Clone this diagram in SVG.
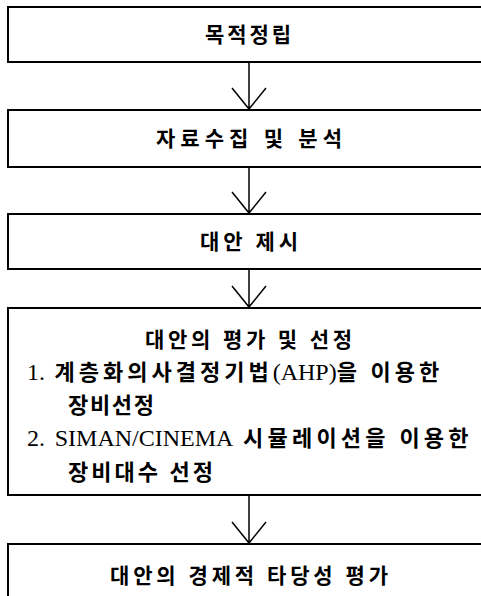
<svg xmlns="http://www.w3.org/2000/svg" width="481" height="596" viewBox="0 0 481 596">
<style>
.box{fill:#fff;stroke:#000;stroke-width:2}
.ln{fill:none;stroke:#000;stroke-width:1.5}
.t{font-family:"Liberation Serif","Noto Sans CJK KR",serif;font-weight:bold;fill:#000}
.h{font-size:21px}
.l{font-size:22px}
.r{font-weight:normal;font-size:24px;letter-spacing:0}
.k1{letter-spacing:4px}
.k2{letter-spacing:4.2px}
</style>
<rect width="481" height="596" fill="#fff"/>
<g id="connectors">
<path class="ln" d="M249,62V109M232,88L249,109L266,88"/>
<path class="ln" d="M249,167V213M232,192L249,213L266,192"/>
<path class="ln" d="M249,269V307M232,286L249,307L266,286"/>
<path class="ln" d="M249,495V543M232,522L249,543L266,522"/>
</g>
<g id="n1">
<rect class="box" x="8" y="7" width="490" height="55"/>
<text class="t h" x="205" y="42" textLength="86" lengthAdjust="spacing">목적정립</text>
</g>
<g id="n2">
<rect class="box" x="8" y="110" width="490" height="57"/>
<text class="t h" x="156" y="146" textLength="186" lengthAdjust="spacing">자료수집 및 분석</text>
</g>
<g id="n3">
<rect class="box" x="8" y="214" width="490" height="55"/>
<text class="t h" x="200" y="249" textLength="98" lengthAdjust="spacing">대안 제시</text>
</g>
<g id="n4">
<rect class="box" x="8" y="308" width="490" height="187"/>
<text class="t h" x="145" y="347" textLength="207" lengthAdjust="spacing">대안의 평가 및 선정</text>
<text class="t l k1" x="27" y="380"><tspan class="r">1.</tspan> 계층화의사결정기법<tspan class="r">(AHP)</tspan>을 이용한</text>
<text class="t l" x="68" y="413" textLength="86" lengthAdjust="spacing">장비선정</text>
<text class="t l k2" x="27" y="446"><tspan class="r">2.</tspan> <tspan class="r">SIMAN/CINEMA</tspan> 시뮬레이션을 이용한</text>
<text class="t l" x="68" y="480" textLength="145" lengthAdjust="spacing">장비대수 선정</text>
</g>
<g id="n5">
<rect class="box" x="8" y="544" width="490" height="70"/>
<text class="t h" x="110" y="583" textLength="278" lengthAdjust="spacing">대안의 경제적 타당성 평가</text>
</g>
</svg>
